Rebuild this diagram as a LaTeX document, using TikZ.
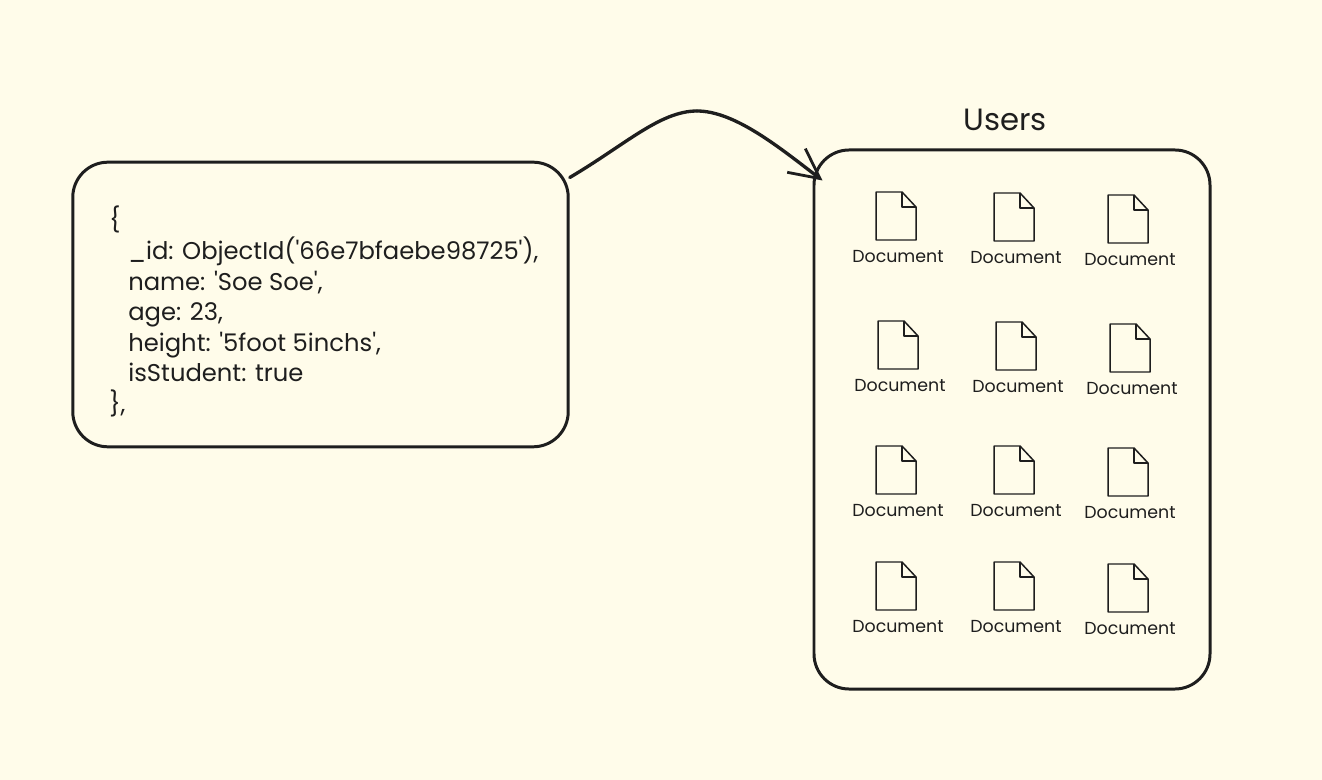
\documentclass[tikz,border=0pt]{standalone}
\usepackage{fontspec}
\newfontfamily\sketchfont{Poppins}
\usetikzlibrary{arrows.meta}
\definecolor{paper}{HTML}{FFFCEA}
\definecolor{ink}{HTML}{1E1E1E}
\tikzset{
  box/.style={draw=ink,line width=1.7pt,rounded corners=20pt,inner sep=0pt},
  codetext/.style={text=ink,align=left,anchor=north west,inner sep=0pt,font=\sketchfont\fontsize{13.8pt}{17.4pt}\selectfont},
  titletext/.style={text=ink,font=\sketchfont\fontsize{17.5pt}{20pt}\selectfont},
  doclabel/.style={text=ink,font=\sketchfont\fontsize{9.9pt}{12pt}\selectfont},
  docline/.style={draw=ink,line width=0.85pt,line join=round},
  link/.style={draw=ink,line width=1.9pt,line cap=round,-{Straight Barb[length=17pt,width=17pt,line width=1.6pt]}}
}
\begin{document}
\begin{tikzpicture}[x=0.02cm,y=-0.02cm]
\useasboundingbox (0,0) rectangle (1322,780);
\fill [paper] (0,0) rectangle (1322,780);
% left record
\node [box,minimum width=282pt,minimum height=162pt] (card) at (320.5,304.5) {};
\node [codetext] (cardtext) at (109,206) {\{\\
\hspace{10.8pt}\_id: ObjectId('66e7bfaebe98725'),\\
\hspace{10.8pt}name: 'Soe Soe',\\
\hspace{10.8pt}age: 23,\\
\hspace{10.8pt}height: '5foot 5inchs',\\
\hspace{10.8pt}isStudent: true\\
\},};
% collection
\node [box,minimum width=225.4pt,minimum height=306.8pt] (coll) at (1012,419.5) {};
\node [titletext] (title) at (1005,120) {Users};
% documents: x, y, number
\foreach \x/\y/\n in {876/192/1,994/193/2,1108/195/3,
                      878/321/4,996/322/5,1110/324/6,
                      876/446/7,994/446/8,1108/448/9,
                      876/562/10,994/562/11,1108/564/12} {
  \draw [docline] (\x,\y) -- (\x+26,\y) -- (\x+40,\y+15) -- (\x+40,\y+48) -- (\x,\y+48) -- cycle;
  \draw [docline] (\x+26,\y) -- (\x+26,\y+15) -- (\x+40,\y+15);
  \node [doclabel] (doc\n) at (\x+22,\y+65) {Document};
}
% arrow
\coordinate (bend) at (697,111);
\draw [draw=ink,line width=1.9pt,line cap=round] (card.27) .. controls (625,145) and (660,111) .. (bend);
\draw [link] (bend) .. controls (735,111) and (780,148) .. ([shift={(10,32)}]coll.north west);
\end{tikzpicture}
\end{document}
